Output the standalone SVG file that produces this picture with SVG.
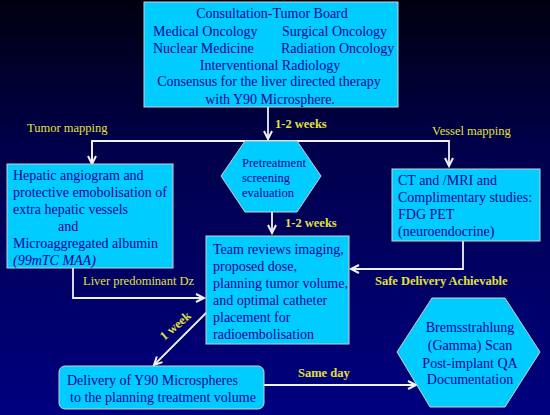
<svg xmlns="http://www.w3.org/2000/svg" width="550" height="415" viewBox="0 0 550 415">
<defs>
<linearGradient id="bg" x1="0" y1="0" x2="0" y2="1">
<stop offset="0" stop-color="#000010"/>
<stop offset="0.35" stop-color="#00004A"/>
<stop offset="1" stop-color="#000080"/>
</linearGradient>
<marker id="arr" markerUnits="userSpaceOnUse" markerWidth="12" markerHeight="12" refX="9" refY="5" orient="auto" viewBox="0 0 12 10">
<path d="M1,1 L9,5 L1,9" fill="none" stroke="#F0F0F0" stroke-width="2"/>
</marker>
<style>
.box{fill:#00CCFF;stroke:#D0D0D0;stroke-width:1}
.t{font-family:"Liberation Serif","Times New Roman",serif;font-size:14px;fill:#000099}
.th{font-family:"Liberation Serif","Times New Roman",serif;font-size:12.5px;fill:#000099}
.lab{font-family:"Liberation Serif","Times New Roman",serif;font-size:12.5px;fill:#E0E040}
.b{font-weight:bold}
.c{text-anchor:middle}
.ln{fill:none;stroke:#F0F0F0;stroke-width:1.8}
</style>
</defs>
<rect x="0" y="0" width="550" height="415" fill="url(#bg)"/>

<g id="connectors">
<line class="ln" x1="268" y1="107" x2="268" y2="139" marker-end="url(#arr)"/>
<polyline class="ln" points="92,164 92,141 449,141 449,166" marker-end="url(#arr)"/>
<line class="ln" x1="92" y1="141" x2="92" y2="164" marker-end="url(#arr)"/>
<line class="ln" x1="272" y1="212" x2="272" y2="233" marker-end="url(#arr)"/>
<polyline class="ln" points="73,268 73,298 204,298" marker-end="url(#arr)"/>
<polyline class="ln" points="463,241 463,269 351,269" marker-end="url(#arr)"/>
<line class="ln" x1="207" y1="312" x2="154" y2="365" marker-end="url(#arr)"/>
<line class="ln" x1="264" y1="385" x2="416" y2="385" marker-end="url(#arr)"/>
<text class="lab" x="27" y="132">Tumor mapping</text>
<text class="lab b" x="275" y="128">1-2 weeks</text>
<text class="lab" x="432" y="135">Vessel mapping</text>
<text class="lab b" x="285" y="227">1-2 weeks</text>
<text class="lab" x="83" y="285">Liver predominant Dz</text>
<text class="lab b" x="375" y="285">Safe Delivery Achievable</text>
<text class="lab b" x="298" y="377">Same day</text>
<text class="lab b c" transform="translate(178,329) rotate(-41)">1 week</text>
</g>

<g id="tumor-board">
<rect class="box" x="144" y="2" width="254" height="105"/>
<text class="t c" x="272" y="18">Consultation-Tumor Board</text>
<text class="t" x="153" y="36">Medical Oncology</text>
<text class="t" x="282" y="36">Surgical Oncology</text>
<text class="t" x="153" y="53">Nuclear Medicine</text>
<text class="t" x="281" y="53">Radiation Oncology</text>
<text class="t c" x="270" y="70">Interventional Radiology</text>
<text class="t c" x="269" y="86">Consensus for the liver directed therapy</text>
<text class="t c" x="270" y="104">with Y90 Microsphere.</text>
</g>

<g id="pretreatment">
<polygon class="box" points="245,141 297,141 321,176 297,212 245,212 221,176"/>
<text class="th" x="242" y="166.5">Pretreatment</text>
<text class="th" x="242" y="182">screening</text>
<text class="th" x="242" y="196.5">evaluation</text>
</g>

<g id="hepatic-angiogram">
<rect class="box" x="7" y="164" width="166" height="104"/>
<text class="t" x="13" y="180">Hepatic angiogram and</text>
<text class="t" x="13" y="197">protective emobolisation of</text>
<text class="t" x="13" y="214">extra hepatic vessels</text>
<text class="t" x="58" y="231">and</text>
<text class="t" x="13" y="248">Microaggregated albumin</text>
<text class="t" x="13" y="265" font-style="italic">(99mTC MAA)</text>
</g>

<g id="ct-mri">
<rect class="box" x="392" y="169" width="148" height="72"/>
<text class="t" x="398" y="185">CT and /MRI and</text>
<text class="t" x="398" y="202">Complimentary studies:</text>
<text class="t" x="398" y="219">FDG PET</text>
<text class="t" x="398" y="236">(neuroendocrine)</text>
</g>

<g id="team-review">
<rect class="box" x="206" y="236" width="143" height="108"/>
<text class="t" x="213" y="254">Team reviews imaging,</text>
<text class="t" x="213" y="271">proposed dose,</text>
<text class="t" x="213" y="288">planning tumor volume,</text>
<text class="t" x="213" y="305">and optimal catheter</text>
<text class="t" x="213" y="322">placement for</text>
<text class="t" x="213" y="339">radioembolisation</text>
</g>

<g id="delivery">
<rect class="box" x="59" y="366" width="205" height="43" rx="6" ry="6"/>
<text class="t" x="67" y="385">Delivery of Y90 Microspheres</text>
<text class="t" x="70" y="402">to the planning treatment volume</text>
</g>

<g id="bremsstrahlung">
<polygon class="box" points="432,298 505,298 540,352 505,407 430,407 397,352"/>
<text class="t c" x="470" y="331.5">Bremsstrahlung</text>
<text class="t c" x="470" y="349.5">(Gamma) Scan</text>
<text class="t c" x="470" y="367.5">Post-implant QA</text>
<text class="t c" x="470" y="383.5">Documentation</text>
</g>
</svg>
